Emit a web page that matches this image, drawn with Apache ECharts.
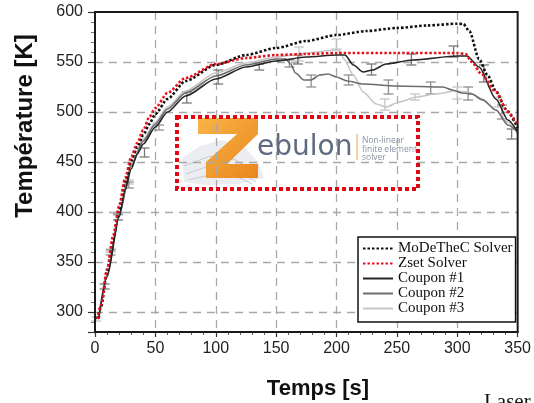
<!DOCTYPE html>
<html>
<head>
<meta charset="utf-8">
<script src="https://cdn.jsdelivr.net/npm/echarts@6/dist/echarts.min.js"></script>
<style>html,body{margin:0;padding:0;background:#fff}#c{width:534px;height:403px}</style>
</head>
<body>
<div id="c"></div>
<script>
// ---- data ----
const seriesNames = ['MoDeTheC Solver', 'Zset Solver', 'Coupon #1', 'Coupon #2', 'Coupon #3'];

const modTime = [2,5,10,15,20,25,30,35,40,45,50,60,75,100,125,150,175,200,225,250,275,300,305,310,318,325,332,340,350];
const modTemp = [293,305,340,372,402,430,451,465,477,488,498,513,531,547,557,564,571,577,581,584,586.5,588.3,588,581,553,537,521,503,484];

const zsetTime = [2,5,10,15,20,25,30,35,40,45,50,60,75,100,125,150,175,200,250,300,307,312,320,332,342,350];
const zsetTemp = [293,307,343,376,406,434,455,469,482,495,504,519,534,548,554,557,558,559,559,559,558,550,538,520,500,487];

const c1Time = [3,10,20,25,30,35,40,50,60,75,100,125,150,175,200,207,214,222,230,241,263,300,308,318,332,342,350];
const c1Temp = [293,335,395,422,443,458,468,485,500,516,533,545,551,555,557,557,547,540,542,548,552,556,556,545,513,492,480];

const c2Time = [3,10,20,30,40,50,60,75,100,125,150,158,162,166,173,179,186,193,200,209,222,250,288,296,304,312,321,332,342,350];
const c2Temp = [293,337,397,446,471,488,503,519,536,547,553,553,548,539,532,532,537,538,535,531,528,526,525,522,519,518,512,502,487,480];

const c3Time = [3,10,20,30,40,50,60,75,100,125,150,175,200,203,206,214,222,233,241,252,266,282,299,309,321,332,342,350];
const c3Temp = [293,338,398,448,473,490,505,521,539,549,555,559,562,561,553,537,520,508,505,510,515,518,521,520,513,502,490,478];

// error bars: [time, low, high]
const bars1 = [[8,323,328],[19,392,398],[41,455,464],[76,509,520],[102,528,542],[136,542,548],[168,548,557],[229,537,548],[262,547,558],[297,555,566],[322,530,547],[345,473,483]];
const bars2 = [[13,357,362],[28,424,430],[53,482,487],[161,545,552],[179,525,537],[210,527,537],[243,518,532],[278,518,530],[309,512,525],[337,493,507]];
const bars3 = [[1,291,295],[13,360,363],[19,397,400],[28,428,432],[169,551,565],[200,563,573],[240,502,513],[265,512,518],[300,513,525],[334,505,515]];

const xTicks = [0,50,100,150,200,250,300,350];
const yTicks = [300,350,400,450,500,550,600];

// ---- helpers ----
const zip = (a, b) => a.map((v, i) => [v, b[i]]);

function barSeries(name, data, color) {
  return {
    type: 'custom', name: name, data: data, silent: true, z: 3,
    renderItem: function (params, api) {
      const p1 = api.coord([api.value(0), api.value(1)]);
      const p2 = api.coord([api.value(0), api.value(2)]);
      const w = 5;
      const st = { stroke: color, lineWidth: 1.3 };
      return { type: 'group', children: [
        { type: 'line', shape: { x1: p1[0], y1: p1[1], x2: p2[0], y2: p2[1] }, style: st },
        { type: 'line', shape: { x1: p1[0]-w, y1: p1[1], x2: p1[0]+w, y2: p1[1] }, style: st },
        { type: 'line', shape: { x1: p2[0]-w, y1: p2[1], x2: p2[0]+w, y2: p2[1] }, style: st }
      ]};
    }
  };
}

function lineSeries(name, t, v, color, width, dash, z) {
  return {
    type: 'line', name: name, data: zip(t, v), showSymbol: false, symbol: 'none',
    smooth: 0.25, smoothMonotone: 'x', z: z,
    lineStyle: { color: color, width: width, type: dash || 'solid' },
    itemStyle: { color: color }
  };
}

const chart = echarts.init(document.getElementById('c'), null, { renderer: 'canvas' });

const option = {
  animation: false,
  backgroundColor: '#fff',
  grid: { left: 95, right: 13, top: 12, bottom: 71, show: true, borderColor: '#1a1a1a', borderWidth: 2, backgroundColor: 'transparent', z: 5 },
  xAxis: {
    type: 'value', min: 0, max: 350, interval: 50,
    axisLine: { show: true, lineStyle: { color: '#1a1a1a', width: 2 } },
    axisTick: { show: true, length: 5, lineStyle: { color: '#333', width: 1.2 } },
    minorTick: { show: true, splitNumber: 5, length: 3, lineStyle: { color: '#666', width: 1 } },
    splitLine: { show: true, showMinLine: false, showMaxLine: false, lineStyle: { color: '#a8a8a8', width: 1.3, type: [8, 6] } },
    axisLabel: { color: '#222', fontSize: 16, fontFamily: 'Liberation Sans, Arial, sans-serif', margin: 9,
      formatter: v => xTicks.indexOf(v) >= 0 ? String(v) : '' }
  },
  yAxis: {
    type: 'value', min: 280, max: 600, splitNumber: 6,
    axisLine: { show: true, lineStyle: { color: '#1a1a1a', width: 2 } },
    axisTick: { show: true, length: 7, lineStyle: { color: '#333', width: 1.2 } },
    minorTick: { show: true, splitNumber: 5, length: 4, lineStyle: { color: '#777', width: 1 } },
    splitLine: { show: true, showMinLine: false, showMaxLine: false, lineStyle: { color: '#a8a8a8', width: 1.3, type: [8, 6] } },
    axisLabel: { color: '#222', fontSize: 16, fontFamily: 'Liberation Sans, Arial, sans-serif', margin: 12,
      formatter: v => yTicks.indexOf(v) >= 0 ? String(v) : '' }
  },
  legend: {
    data: seriesNames,
    orient: 'vertical', left: 358, top: 237,
    itemWidth: 30, itemHeight: 15, itemGap: 0,
    padding: [4, 3, 6, 4],
    borderColor: '#111', borderWidth: 1.5, backgroundColor: '#fff',
    selectedMode: false,
    textStyle: { fontFamily: 'Liberation Serif, Times New Roman, serif', fontSize: 15, color: '#111', lineHeight: 15, padding: [0,0,0,0] },
    itemStyle: { opacity: 0 },
    z: 10
  },
  graphic: [
    // logo (decorative)
    { type: 'polygon', z: -1, shape: { points: [[182,158],[200,146],[222,140],[244,146],[258,162],[264,178],[240,184],[205,185],[184,182]] },
      style: { fill: '#e7e9ee', opacity: 0.8 } },
    { type: 'polyline', z: -1, shape: { points: [[184,166],[210,156],[236,160],[258,176]] }, style: { stroke: '#c6cad2', lineWidth: 1, fill: null } },
    { type: 'polyline', z: -1, shape: { points: [[186,174],[212,165],[238,170],[256,182]] }, style: { stroke: '#c6cad2', lineWidth: 1, fill: null } },
    { type: 'polyline', z: -1, shape: { points: [[188,180],[214,174],[240,178],[252,184]] }, style: { stroke: '#c6cad2', lineWidth: 1, fill: null } },
    { type: 'polygon', z: -1, shape: { points: [[198,118],[258,118],[258,134],[227,164],[258,164],[258,178],[206,178],[206,162],[237,134],[198,134]] },
      style: { fill: { type: 'linear', x: 0, y: 0, x2: 1, y2: 1, colorStops: [{ offset: 0, color: '#f8b449' }, { offset: 1, color: '#e9861b' }] } } },
    { type: 'text', z: -1, style: { text: 'ebulon', x: 257, y: 148, verticalAlign: 'middle', font: '28px "DejaVu Sans", sans-serif', fill: '#5d6a80' } },
    { type: 'line', z: -1, shape: { x1: 357, y1: 134, x2: 357, y2: 160 }, style: { stroke: '#e9a74a', lineWidth: 1 } },
    { type: 'text', z: -1, style: { text: 'Non-linear', x: 362, y: 141, verticalAlign: 'middle', font: '8.5px "Open Sans", sans-serif', fill: '#8a93a4' } },
    { type: 'text', z: -1, style: { text: 'finite element', x: 362, y: 150, verticalAlign: 'middle', font: '8.5px "Open Sans", sans-serif', fill: '#8a93a4' } },
    { type: 'text', z: -1, style: { text: 'solver', x: 362, y: 158, verticalAlign: 'middle', font: '8.5px "Open Sans", sans-serif', fill: '#8a93a4' } },
    { type: 'rect', z: 1, shape: { x: 177, y: 117, width: 241, height: 72 }, style: { fill: null, stroke: '#e30613', lineWidth: 4, lineDash: [4, 3] } },
    // axis titles
    { type: 'text', style: { text: 'Temps [s]', x: 318, y: 389, align: 'center', verticalAlign: 'middle', font: 'bold 22px "Liberation Sans", Arial, sans-serif', fill: '#111' } },
    { type: 'text', rotation: Math.PI / 2, x: 25, y: 126, style: { text: 'Température [K]', x: 0, y: 0, align: 'center', verticalAlign: 'middle', font: 'bold 24px "Liberation Sans", Arial, sans-serif', fill: '#111' } },
    { type: 'text', style: { text: 'Laser', x: 484, y: 392, align: 'left', verticalAlign: 'top', font: '21px "Liberation Serif", serif', fill: '#111' } }
  ],
  series: [
    barSeries('bars3', bars3, '#c4c4c4'),
    barSeries('bars2', bars2, '#8f8f8f'),
    barSeries('bars1', bars1, '#777777'),
    lineSeries('Coupon #3', c3Time, c3Temp, '#c6c6c6', 1.6, 'solid', 4),
    lineSeries('Coupon #2', c2Time, c2Temp, '#6c6c6c', 1.6, 'solid', 5),
    lineSeries('Coupon #1', c1Time, c1Temp, '#262626', 1.6, 'solid', 6),
    lineSeries('MoDeTheC Solver', modTime, modTemp, '#111111', 2.6, [2.5, 2], 7),
    lineSeries('Zset Solver', zsetTime, zsetTemp, '#e8101c', 2.6, [2.5, 2], 8)
  ]
};
chart.setOption(option);
</script>
</body>
</html>
